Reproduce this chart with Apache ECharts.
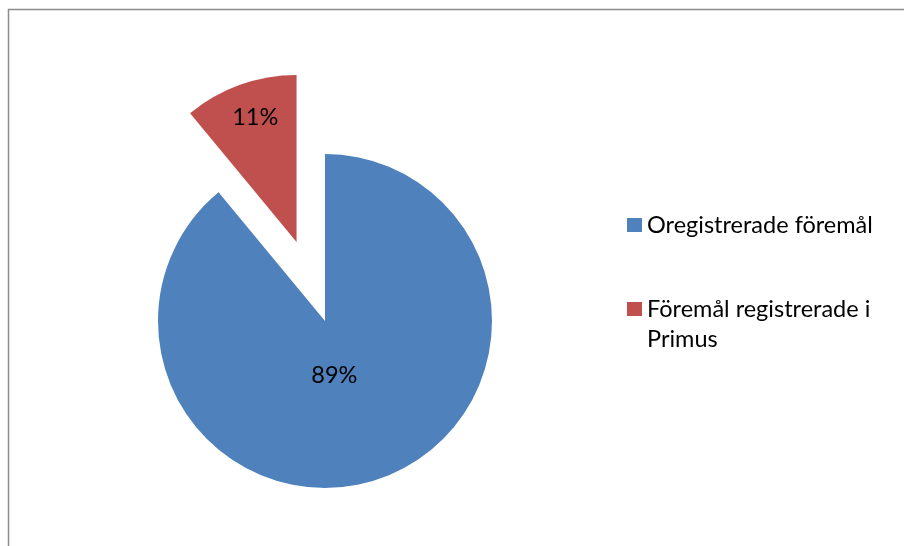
<!DOCTYPE html>
<html>
<head>
<meta charset="utf-8">
<script src="https://cdn.jsdelivr.net/npm/echarts@6/dist/echarts.min.js"></script>
<style>
html,body{margin:0;padding:0;background:#fff;}
#chart{width:904px;height:546px;}
</style>
</head>
<body>
<div id="chart"></div>
<script>
const categories = ['Oregistrerade föremål', 'Föremål registrerade i Primus'];
const values = [89, 11];
const colors = ['#4f81bd', '#c0504d'];
const exploded = [false, true];

const FONT = 'Lato';
const chart = echarts.init(document.getElementById('chart'), null, {renderer: 'canvas'});

const labelShift = [[-20, -27], [-12, -43]];

chart.setOption({
  animation: false,
  backgroundColor: '#ffffff',
  graphic: [{
    type: 'rect',
    shape: {x: 8.5, y: 9.5, width: 1000, height: 1000},
    style: {fill: null, stroke: '#8c8c8c', lineWidth: 1.5},
    silent: true
  }],
  legend: {
    orient: 'vertical',
    left: 622,
    top: 205,
    itemWidth: 15,
    itemHeight: 14,
    itemGap: 24,
    icon: 'rect',
    selectedMode: false,
    formatter: function (name) { return name === categories[1] ? '\n' + name : name; },
    textStyle: {fontFamily: FONT, fontSize: 23.5, color: '#000', width: 255, overflow: 'break', lineHeight: 30}
  },
  series: [{
    type: 'pie',
    center: [325, 321],
    radius: 167,
    startAngle: 90,
    clockwise: true,
    selectedMode: 'multiple',
    selectedOffset: 84,
    avoidLabelOverlap: false,
    silent: true,
    label: {
      show: true,
      position: 'inside',
      formatter: function (p) { return Math.round(p.percent) + '%'; },
      fontFamily: FONT,
      fontSize: 23.5,
      color: '#000'
    },
    labelLayout: function (p) {
      return {dx: labelShift[p.dataIndex][0], dy: labelShift[p.dataIndex][1]};
    },
    labelLine: {show: false},
    emphasis: {disabled: true},
    data: categories.map((name, i) => ({
      name: name,
      value: values[i],
      selected: exploded[i],
      itemStyle: {color: colors[i]}
    }))
  }]
});
</script>
</body>
</html>
